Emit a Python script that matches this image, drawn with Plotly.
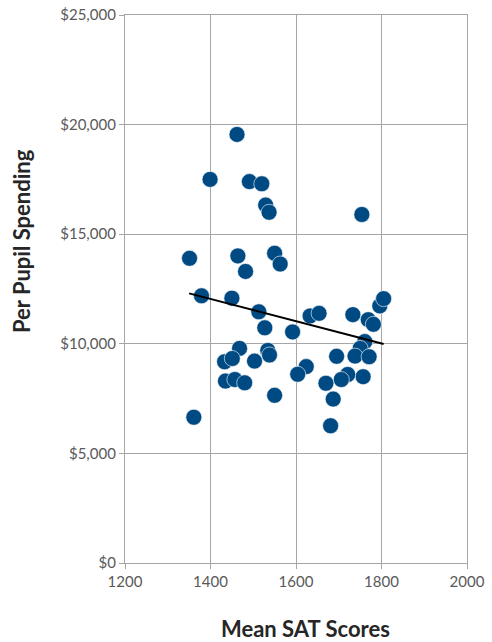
import plotly.graph_objects as go

sat_scores = [1462, 1399, 1491, 1520, 1529, 1537, 1754, 1351, 1464, 1482, 1550, 1563,
              1379, 1450, 1513, 1527, 1592, 1633, 1654, 1733, 1769, 1781, 1796, 1805,
              1761, 1750, 1738, 1771, 1695, 1757, 1721, 1706, 1670, 1687, 1681, 1624,
              1604, 1550, 1534, 1538, 1468, 1433, 1451, 1503, 1435, 1457, 1480, 1361]
spending = [19550, 17500, 17400, 17300, 16330, 16000, 15900, 13900, 14010, 13300, 14130, 13640,
            12190, 12080, 11460, 10730, 10540, 11270, 11390, 11330, 11100, 10890, 11730, 12060,
            10100, 9790, 9440, 9410, 9430, 8500, 8600, 8370, 8200, 7480, 6260, 8960,
            8610, 7650, 9700, 9490, 9790, 9180, 9330, 9210, 8300, 8370, 8220, 6650]

trend_x = [1350, 1805]
trend_y = [12300, 9990]

x_ticks = [1200, 1400, 1600, 1800, 2000]
x_tick_labels = ["1200", "1400", "1600", "1800", "2000"]
y_ticks = [0, 5000, 10000, 15000, 20000, 25000]
y_tick_labels = ["$0", "$5,000", "$10,000", "$15,000", "$20,000", "$25,000"]

grid = "#A6A6A6"
tick_font = dict(family="Lato, Liberation Sans, sans-serif", size=15, color="#595959")
title_font = dict(family="Lato, Liberation Sans, sans-serif", size=22, color="#262626")

fig = go.Figure()
fig.add_trace(go.Scatter(
    x=sat_scores, y=spending, mode="markers",
    marker=dict(size=16, color="#004A84", line=dict(width=0.6, color="#FFFFFF")),
    showlegend=False, hoverinfo="x+y"))
fig.add_trace(go.Scatter(
    x=trend_x, y=trend_y, mode="lines",
    line=dict(color="#000000", width=2), showlegend=False, hoverinfo="skip"))

fig.update_layout(
    width=492, height=642,
    margin=dict(l=125, r=25, t=15, b=79, autoexpand=False),
    plot_bgcolor="#FFFFFF", paper_bgcolor="#FFFFFF",
    xaxis=dict(range=[1200, 2000], tickvals=x_ticks, ticktext=x_tick_labels,
               showgrid=True, gridcolor=grid, gridwidth=1.3,
               showline=True, linecolor=grid, linewidth=1.3, mirror=True,
               ticks="outside", ticklen=5, tickcolor=grid, tickwidth=1.3,
               tickfont=tick_font, zeroline=False, fixedrange=True,
               automargin=False, ticklabeloverflow="allow"),
    yaxis=dict(range=[0, 25000], tickvals=y_ticks, ticktext=y_tick_labels,
               showgrid=True, gridcolor=grid, gridwidth=1.3,
               showline=True, linecolor=grid, linewidth=1.3, mirror=True,
               ticks="outside", ticklen=5, tickcolor=grid, tickwidth=1.3,
               tickfont=tick_font, zeroline=False, fixedrange=True,
               automargin=False, ticklabeloverflow="allow"),
    annotations=[
        dict(text="<b>Per Pupil Spending</b>", xref="paper", yref="paper",
             x=-0.301, y=0.5876, xanchor="center", yanchor="middle", textangle=-90,
             showarrow=False, font=title_font),
        dict(text="<b>Mean SAT Scores</b>", xref="paper", yref="paper",
             x=0.529, y=-0.1204, xanchor="center", yanchor="middle",
             showarrow=False, font=title_font),
    ],
)

fig.write_html("out.html", config={"displayModeBar": False},
               post_script="document.body.style.margin='0';document.body.style.overflow='hidden';")
